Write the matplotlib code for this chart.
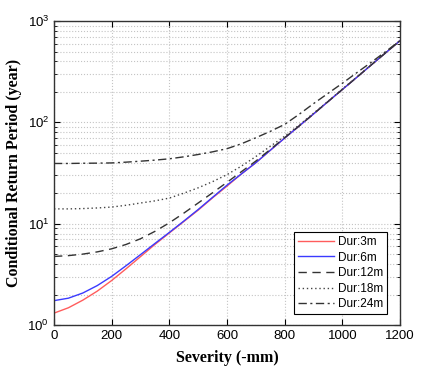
import numpy as np
import matplotlib
matplotlib.use("Agg")
import matplotlib.pyplot as plt
from matplotlib.ticker import LogLocator, NullFormatter

severity = list(range(0, 1201, 50))
dur_3m = [1.31, 1.48, 1.76, 2.16, 2.75, 3.59, 4.73, 6.24, 8.1, 10.5, 13.6, 18, 23.5,
          31, 40, 53, 70, 92, 121, 160, 211, 278, 368, 485, 640]
dur_6m = [1.74, 1.84, 2.07, 2.45, 3.02, 3.85, 4.95, 6.38, 8.2, 10.6, 13.8, 18.2, 24,
          31, 40, 53, 70, 92, 121, 160, 211, 278, 368, 485, 640]
dur_12m = [4.75, 4.84, 5.01, 5.27, 5.65, 6.24, 7.1, 8.4, 10.2, 12.7, 16.0, 20.2, 25.6,
           32.6, 41.5, 54, 70.5, 92, 121, 160, 211, 278, 368, 485, 640]
dur_18m = [14.0, 14.0, 14.1, 14.3, 14.6, 15.2, 16.0, 16.8, 17.9, 20.0, 22.6, 26, 30.5,
           37, 46, 58, 73, 94, 123, 161, 213, 280, 370, 487, 640]
dur_24m = [39.3, 39.3, 39.5, 39.6, 39.8, 40.5, 41.4, 42.4, 43.7, 45.7, 48.2, 51.2, 55,
           61.5, 70.5, 81.5, 95.5, 120, 153, 193, 243, 309, 391, 499, 640]
labels = ["Dur:3m", "Dur:6m", "Dur:12m", "Dur:18m", "Dur:24m"]

fig = plt.figure(figsize=(4.31, 3.83), dpi=100)
ax = fig.add_axes([0.1253, 0.1514, 0.8027, 0.7936])

ax.plot(severity, dur_3m, color="#ff5c5c", lw=1.0, label=labels[0])
ax.plot(severity, dur_6m, color="#3a3aff", lw=1.0, label=labels[1])
ax.plot(severity, dur_12m, color="#333333", lw=1.0, ls=(0, (6, 4)), label=labels[2])
ax.plot(severity, dur_18m, color="#444444", lw=1.0, ls=(0, (1, 2)), label=labels[3])
ax.plot(severity, dur_24m, color="#333333", lw=1.0, ls=(0, (6, 2.5, 1.5, 2.5)), label=labels[4])

ax.set_yscale("log")
ax.set_xlim(0, 1200)
ax.set_ylim(1, 1000)
ax.set_xticks(range(0, 1201, 200))
ax.yaxis.set_minor_locator(LogLocator(base=10, subs=np.arange(2, 10)))
ax.yaxis.set_minor_formatter(NullFormatter())

ax.grid(True, which="major", color="#c4c4c4", ls=":", lw=0.8)
ax.grid(True, which="minor", axis="y", color="#c4c4c4", ls=":", lw=0.8)
ax.tick_params(which="both", direction="in", top=True, right=True, labelsize=9.5)
ax.tick_params(which="major", length=4)
ax.tick_params(which="minor", length=2)
for lab in ax.get_xticklabels() + ax.get_yticklabels():
    lab.set_family("Liberation Sans")
for s in ax.spines.values():
    s.set_linewidth(1.0)
    s.set_color("#333333")

ax.set_xlabel("Severity (-mm)", family="Liberation Serif", fontweight="bold", fontsize=11.5, labelpad=6)
ax.set_ylabel("Conditional Return Period (year)", family="Liberation Serif", fontweight="bold", fontsize=11.5, labelpad=4)

leg = ax.legend(loc="lower right", bbox_to_anchor=(0.963, 0.035), borderaxespad=0,
                prop={"family": "Liberation Sans", "size": 8.5}, fancybox=False,
                edgecolor="black", framealpha=1, handlelength=3.1,
                labelspacing=0.3, borderpad=0.35, handletextpad=0.3)
leg.get_frame().set_linewidth(0.8)

fig.savefig("out.png", dpi=100)
